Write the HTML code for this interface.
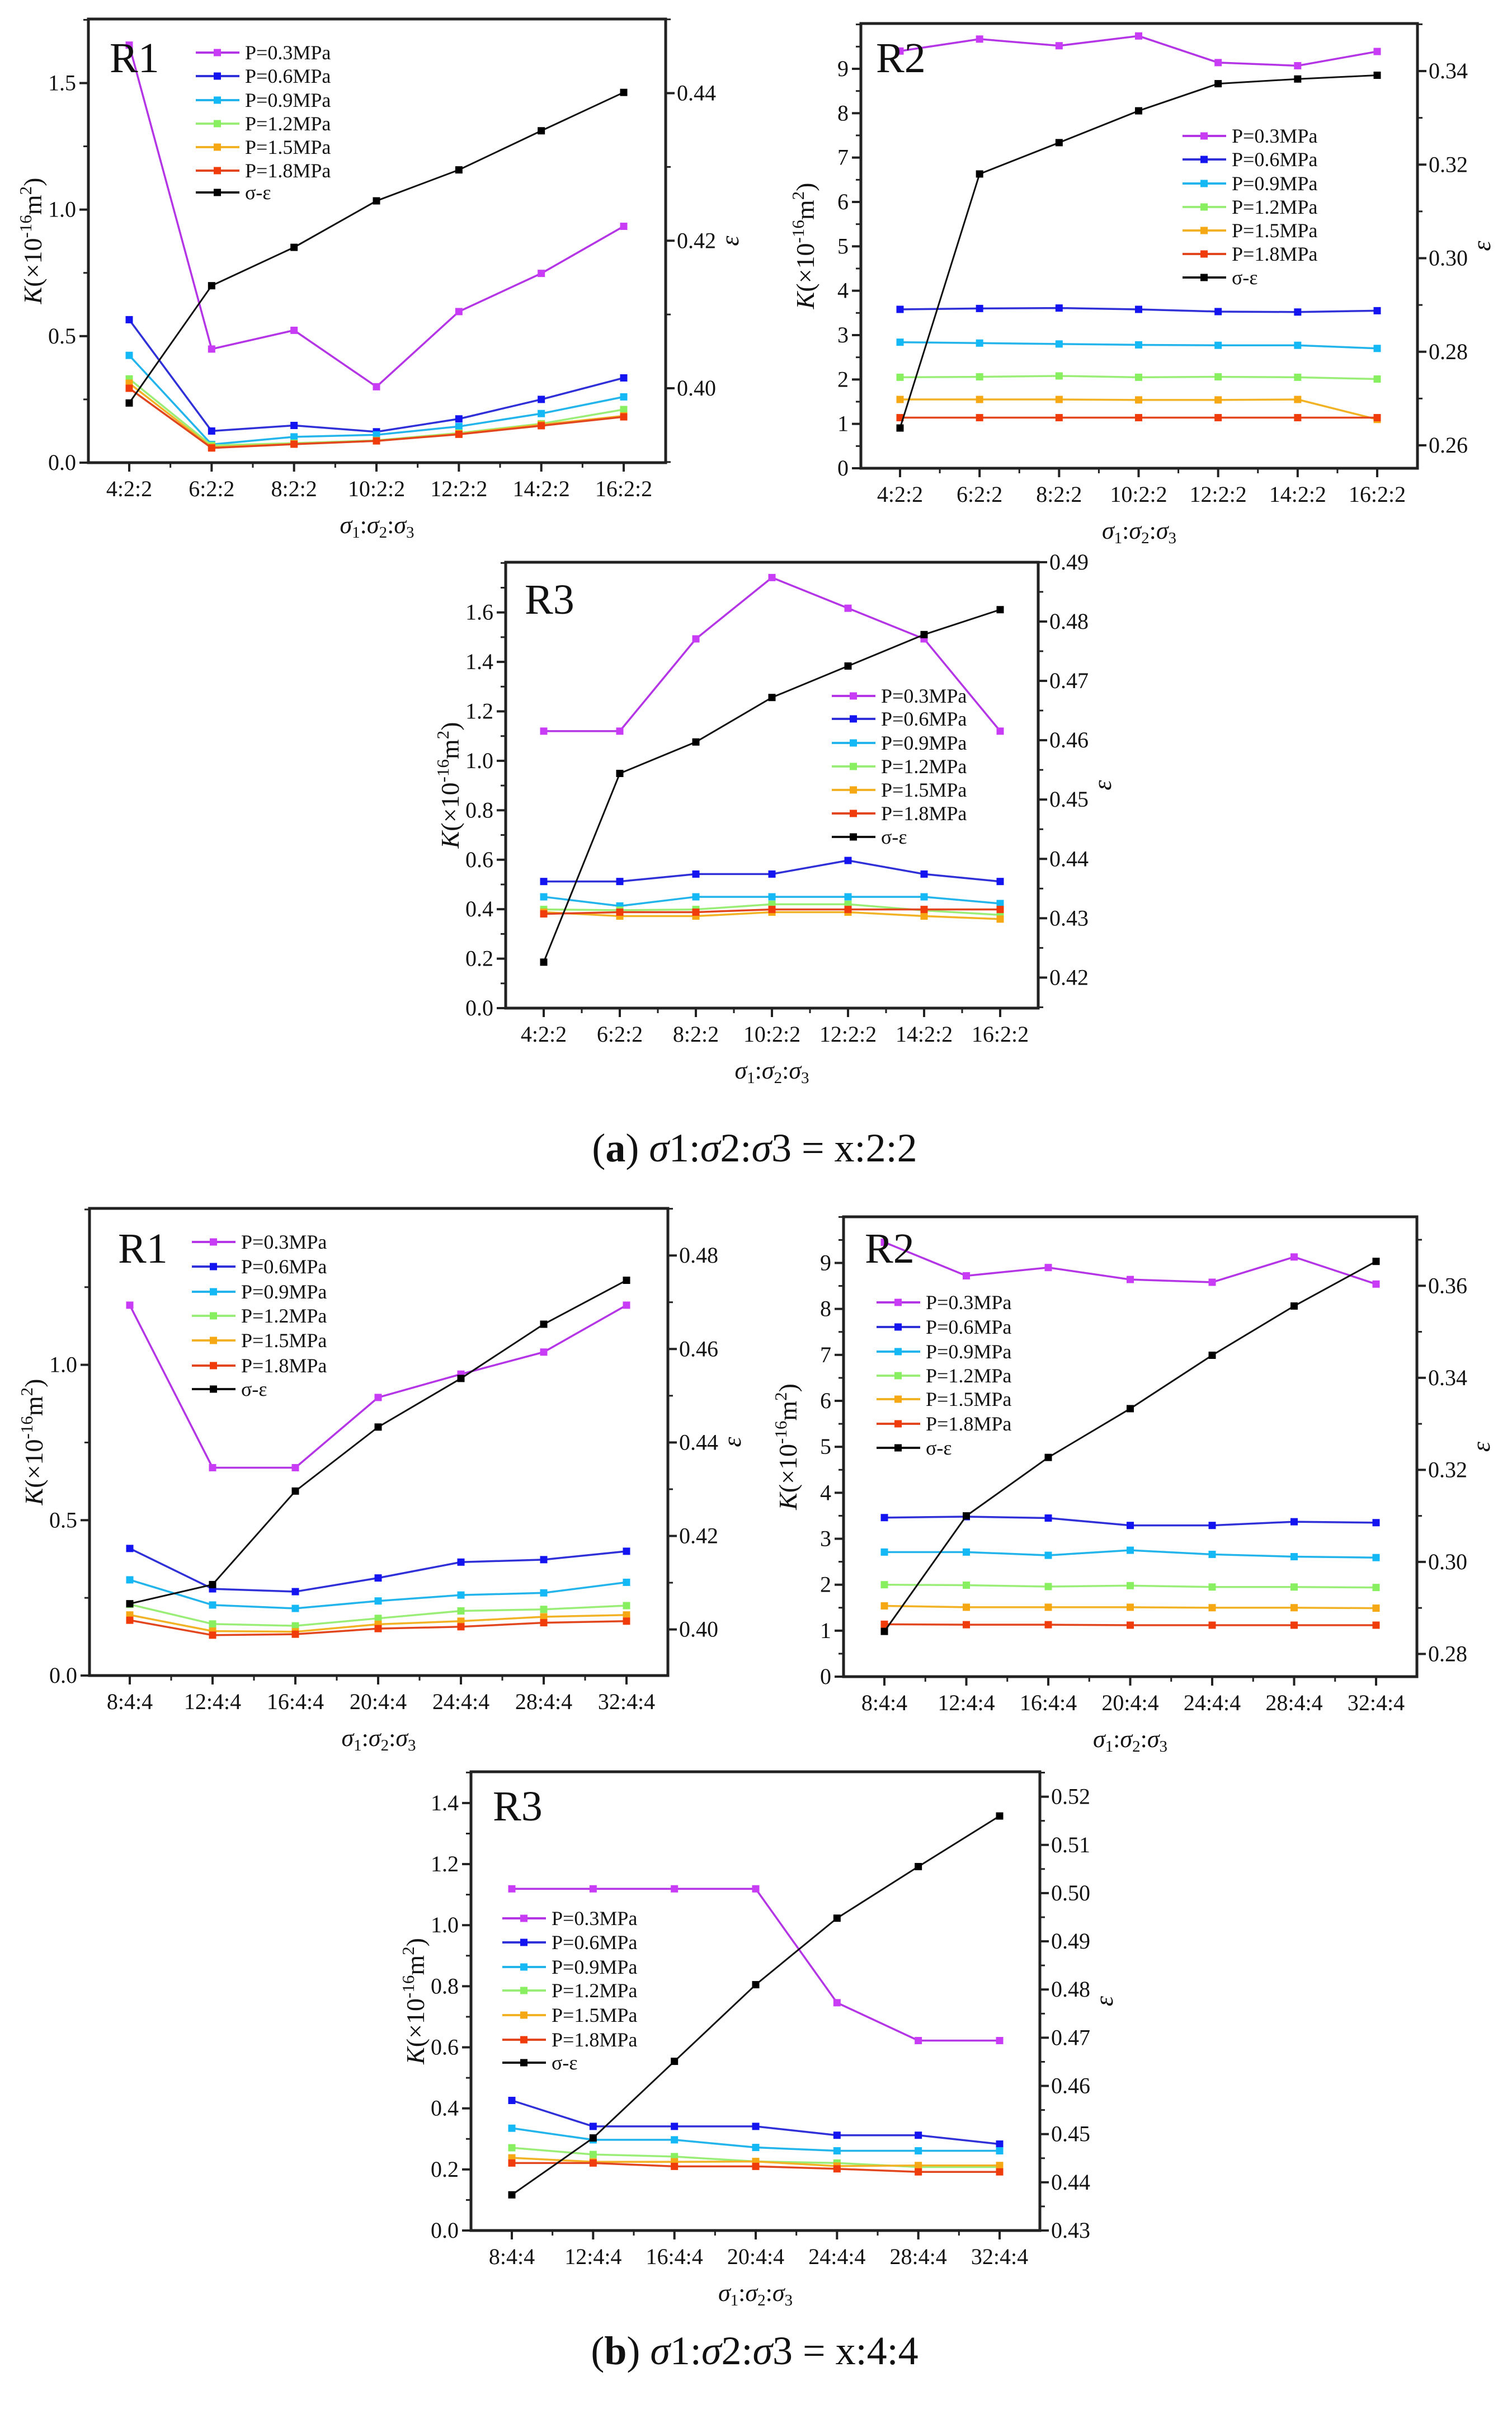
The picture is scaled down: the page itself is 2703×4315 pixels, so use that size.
<!DOCTYPE html>
<html><head><meta charset="utf-8"><style>
html,body{margin:0;padding:0;background:#fff;}
svg{display:block;}
text{font-family:"Liberation Serif","DejaVu Serif",serif;fill:#111;}
</style></head><body>
<svg id="fig" xmlns="http://www.w3.org/2000/svg" width="2703" height="4315" viewBox="0 0 2703 4315">
<rect x="0" y="0" width="2703" height="4315" fill="#fff"/>
<text x="1349" y="2076" font-size="72" text-anchor="middle">(<tspan font-weight="bold">a</tspan>) <tspan font-style="italic">σ</tspan>1:<tspan font-style="italic">σ</tspan>2:<tspan font-style="italic">σ</tspan>3 = x:2:2</text>
<text x="1349" y="4226" font-size="72" text-anchor="middle">(<tspan font-weight="bold">b</tspan>) <tspan font-style="italic">σ</tspan>1:<tspan font-style="italic">σ</tspan>2:<tspan font-style="italic">σ</tspan>3 = x:4:4</text>
</svg>
<script>
// ---- categories ----
const catsA = ['4:2:2','6:2:2','8:2:2','10:2:2','12:2:2','14:2:2','16:2:2'];
const catsB = ['8:4:4','12:4:4','16:4:4','20:4:4','24:4:4','28:4:4','32:4:4'];
const legendLabels = ['P=0.3MPa','P=0.6MPa','P=0.9MPa','P=1.2MPa','P=1.5MPa','P=1.8MPa','σ-ε'];
// ---- (a) R1 ----
const aR1_p03 = [1.65,0.449,0.523,0.30,0.597,0.748,0.934];
const aR1_p06 = [0.565,0.125,0.147,0.122,0.173,0.25,0.335];
const aR1_p09 = [0.424,0.072,0.102,0.11,0.143,0.194,0.26];
const aR1_p12 = [0.331,0.068,0.077,0.088,0.117,0.154,0.21];
const aR1_p15 = [0.314,0.061,0.074,0.086,0.114,0.15,0.185];
const aR1_p18 = [0.294,0.058,0.073,0.086,0.112,0.146,0.181];
const aR1_eps = [0.398,0.4139,0.4191,0.4254,0.4296,0.4349,0.4401];
const aR1_kTicks = ['0.0','0.5','1.0','1.5'];
const aR1_eTicks = ['0.40','0.42','0.44'];
// ---- (a) R2 ----
const aR2_p03 = [9.40,9.67,9.52,9.74,9.14,9.07,9.39];
const aR2_p06 = [3.58,3.60,3.61,3.58,3.53,3.52,3.55];
const aR2_p09 = [2.84,2.82,2.80,2.78,2.77,2.77,2.70];
const aR2_p12 = [2.05,2.06,2.08,2.05,2.06,2.05,2.01];
const aR2_p15 = [1.55,1.55,1.55,1.54,1.54,1.55,1.10];
const aR2_p18 = [1.14,1.14,1.14,1.14,1.14,1.14,1.14];
const aR2_eps = [0.2637,0.318,0.3247,0.3315,0.3373,0.3383,0.3391];
const aR2_kTicks = ['0','1','2','3','4','5','6','7','8','9'];
const aR2_eTicks = ['0.26','0.28','0.30','0.32','0.34'];
// ---- (a) R3 ----
const aR3_p03 = [1.12,1.12,1.493,1.741,1.617,1.493,1.12];
const aR3_p06 = [0.512,0.512,0.542,0.542,0.597,0.542,0.512];
const aR3_p09 = [0.45,0.413,0.45,0.45,0.45,0.45,0.423];
const aR3_p12 = [0.399,0.396,0.399,0.42,0.42,0.395,0.377];
const aR3_p15 = [0.388,0.372,0.372,0.388,0.388,0.372,0.36];
const aR3_p18 = [0.381,0.388,0.388,0.399,0.399,0.399,0.399];
const aR3_eps = [0.4226,0.4544,0.4597,0.4672,0.4725,0.4778,0.482];
const aR3_kTicks = ['0.0','0.2','0.4','0.6','0.8','1.0','1.2','1.4','1.6'];
const aR3_eTicks = ['0.42','0.43','0.44','0.45','0.46','0.47','0.48','0.49'];
// ---- (b) R1 ----
const bR1_p03 = [1.192,0.669,0.669,0.895,0.970,1.041,1.192];
const bR1_p06 = [0.409,0.279,0.270,0.314,0.365,0.373,0.40];
const bR1_p09 = [0.308,0.227,0.216,0.24,0.259,0.266,0.30];
const bR1_p12 = [0.229,0.166,0.16,0.184,0.208,0.213,0.225];
const bR1_p15 = [0.195,0.143,0.141,0.165,0.175,0.189,0.195];
const bR1_p18 = [0.178,0.13,0.133,0.151,0.157,0.17,0.175];
const bR1_eps = [0.4055,0.4096,0.4296,0.4433,0.4537,0.4653,0.4747];
const bR1_kTicks = ['0.0','0.5','1.0'];
const bR1_eTicks = ['0.40','0.42','0.44','0.46','0.48'];
// ---- (b) R2 ----
const bR2_p03 = [9.45,8.72,8.90,8.64,8.58,9.13,8.54];
const bR2_p06 = [3.46,3.48,3.45,3.29,3.29,3.37,3.35];
const bR2_p09 = [2.71,2.71,2.64,2.75,2.66,2.61,2.59];
const bR2_p12 = [2.0,1.99,1.96,1.98,1.95,1.95,1.94];
const bR2_p15 = [1.54,1.51,1.51,1.51,1.50,1.50,1.49];
const bR2_p18 = [1.14,1.13,1.13,1.12,1.12,1.12,1.12];
const bR2_eps = [0.2849,0.31,0.3227,0.3333,0.3449,0.3556,0.3653];
const bR2_kTicks = ['0','1','2','3','4','5','6','7','8','9'];
const bR2_eTicks = ['0.28','0.30','0.32','0.34','0.36'];
// ---- (b) R3 ----
const bR3_p03 = [1.119,1.119,1.119,1.119,0.746,0.622,0.622];
const bR3_p06 = [0.426,0.341,0.341,0.341,0.312,0.312,0.283];
const bR3_p09 = [0.335,0.297,0.297,0.272,0.261,0.261,0.261];
const bR3_p12 = [0.271,0.249,0.242,0.226,0.221,0.208,0.208];
const bR3_p15 = [0.238,0.225,0.225,0.226,0.211,0.213,0.213];
const bR3_p18 = [0.221,0.221,0.21,0.21,0.202,0.192,0.192];
const bR3_eps = [0.4374,0.4492,0.4651,0.481,0.4948,0.5055,0.516];
const bR3_kTicks = ['0.0','0.2','0.4','0.6','0.8','1.0','1.2','1.4'];
const bR3_eTicks = ['0.43','0.44','0.45','0.46','0.47','0.48','0.49','0.50','0.51','0.52'];

const COLORS = ['#b435e6','#3030d8','#22b4ea','#9aee78','#f2b225','#e2461e','#111111'];
const MARK = ['#c83cf5','#1414f0','#14b8f5','#88f060','#f5a814','#f03c0a','#000000'];
const NS = 'http://www.w3.org/2000/svg';
const svg = document.getElementById('fig');
function mk(tag, attrs, parent){
  const el = document.createElementNS(NS, tag);
  for (const k in attrs) el.setAttribute(k, attrs[k]);
  parent.appendChild(el);
  return el;
}

function drawPanel(p){
  const g = mk('g', {}, svg);
  
  
  const n = p.cats.length;
  const xs = i => p.x0 + i * (p.x1 - p.x0) / (n - 1);
  const yK = v => p.kp0 + (v - p.kv0) * (p.kp1 - p.kp0) / (p.kv1 - p.kv0);
  const yE = v => p.ep0 + (v - p.ev0) * (p.ep1 - p.ep0) / (p.ev1 - p.ev0);
  const inv = (y, p0, v0, p1, v1) => v0 + (y - p0) * (v1 - v0) / (p1 - p0);

  for (let i = 0; i < n; i++) {
    const t = mk('line', {x1: xs(i), x2: xs(i), y1: p.B, y2: p.B + 16, stroke: '#222', 'stroke-width': 4}, g);
    
    
    const lb = mk('text', {x: xs(i), y: p.B + 60, 'font-size': 40, 'text-anchor': 'middle'}, g);
    lb.textContent = p.cats[i];
    
    
    if (i < n - 1) {
      const mx = (xs(i) + xs(i + 1)) / 2;
      const m = mk('line', {x1: mx, x2: mx, y1: p.B, y2: p.B + 9, stroke: '#222', 'stroke-width': 3}, g);
      
      
    }
  }
  const kLo = inv(p.B, p.kp0, p.kv0, p.kp1, p.kv1), kHi = inv(p.T, p.kp0, p.kv0, p.kp1, p.kv1);
  for (let k = Math.ceil(kLo / p.kMinor - 1e-6); k * p.kMinor <= kHi + 1e-9; k++) {
    const v = k * p.kMinor, y = yK(v);
    const isMajor = p.kTicks.some(s => Math.abs(parseFloat(s) - v) < 1e-6);
    if (isMajor) continue;
    const m = mk('line', {x1: p.L - 9, x2: p.L, y1: y, y2: y, stroke: '#222', 'stroke-width': 3}, g);
    
    
  }
  p.kTicks.forEach(s => {
    const y = yK(parseFloat(s));
    const t = mk('line', {x1: p.L - 16, x2: p.L, y1: y, y2: y, stroke: '#222', 'stroke-width': 4}, g);
    
    
    const lb = mk('text', {x: p.L - 22, y: y + 13, 'font-size': 40, 'text-anchor': 'end'}, g);
    lb.textContent = s;
    
    
  });
  const eLo = inv(p.B, p.ep0, p.ev0, p.ep1, p.ev1), eHi = inv(p.T, p.ep0, p.ev0, p.ep1, p.ev1);
  for (let k = Math.ceil(eLo / p.eMinor - 1e-6); k * p.eMinor <= eHi + 1e-9; k++) {
    const v = k * p.eMinor, y = yE(v);
    const isMajor = p.eTicks.some(s => Math.abs(parseFloat(s) - v) < 1e-6);
    if (isMajor) continue;
    const m = mk('line', {x1: p.R, x2: p.R + 9, y1: y, y2: y, stroke: '#222', 'stroke-width': 3}, g);
    
    
  }
  p.eTicks.forEach(s => {
    const y = yE(parseFloat(s));
    const t = mk('line', {x1: p.R, x2: p.R + 16, y1: y, y2: y, stroke: '#222', 'stroke-width': 4}, g);
    
    
    const lb = mk('text', {x: p.R + 20, y: y + 13, 'font-size': 40, 'text-anchor': 'start'}, g);
    lb.textContent = s;
    
    
  });
  p.series.forEach((vals, si) => {
    const fy = si === 6 ? yE : yK;
    const pts = vals.map((v, i) => xs(i) + ',' + fy(v)).join(' ');
    const pl = mk('polyline', {points: pts, fill: 'none', stroke: COLORS[si], 'stroke-width': si === 6 ? 3 : 3.5}, g);
    
    
    vals.forEach((v, i) => {
      const r = mk('rect', {x: xs(i) - 6.5, y: fy(v) - 6.5, width: 13, height: 13, fill: MARK[si]}, g);
      
      
    });
  });
  const fr = mk('rect', {x: p.L, y: p.T, width: p.R - p.L, height: p.B - p.T, fill: 'none', stroke: '#222', 'stroke-width': 5}, g);
  
  
  p.legY.forEach((ly, i) => {
    const ln = mk('line', {x1: p.legX, x2: p.legX + 78, y1: ly, y2: ly, stroke: COLORS[i], 'stroke-width': 4}, g);
    
    
    const mr = mk('rect', {x: p.legX + 32, y: ly - 6.5, width: 13, height: 13, fill: MARK[i]}, g);
    
    
    const tx = mk('text', {x: p.legX + 88, y: ly + 12, 'font-size': 36}, g);
    tx.textContent = legendLabels[i];
    
    
  });
  const rl = mk('text', {x: p.rx, y: p.ry, 'font-size': 76}, g);
  rl.textContent = p.label;
  
  
  const cy = (p.T + p.B) / 2;
  const yt = mk('text', {x: 0, y: 0, 'font-size': 46, 'text-anchor': 'middle', transform: 'translate(' + (p.L - 84) + ',' + cy + ') rotate(-90)'}, g);
  yt.innerHTML = '<tspan font-style="italic">K</tspan>(×10<tspan font-size="31" dy="-18">-16</tspan><tspan dy="18">m</tspan><tspan font-size="31" dy="-18">2</tspan><tspan dy="18">)</tspan>';
  
  
  const et = mk('text', {x: 0, y: 0, 'font-size': 46, 'font-style': 'italic', 'text-anchor': 'middle', transform: 'translate(' + (p.R + 130) + ',' + cy + ') rotate(-90)'}, g);
  et.textContent = 'ε';
  
  
  const xt = mk('text', {x: (p.L + p.R) / 2, y: p.B + 126, 'font-size': 44, 'text-anchor': 'middle', 'font-style': 'italic'}, g);
  xt.innerHTML = 'σ<tspan font-style="normal" font-size="29" dy="8">1</tspan><tspan font-style="normal" dy="-8">:</tspan>σ<tspan font-style="normal" font-size="29" dy="8">2</tspan><tspan font-style="normal" dy="-8">:</tspan>σ<tspan font-style="normal" font-size="29" dy="8">3</tspan>';
  
  
}

drawPanel({name:'panel-a-r1', label:'R1', cats:catsA, L:158, R:1190, T:34, B:827, x0:231, x1:1115,
  kv0:0, kp0:827, kv1:1.5, kp1:148.5, kTicks:aR1_kTicks, kMinor:0.25,
  ev0:0.40, ep0:694, ev1:0.44, ep1:166.5, eTicks:aR1_eTicks, eMinor:0.01,
  series:[aR1_p03,aR1_p06,aR1_p09,aR1_p12,aR1_p15,aR1_p18,aR1_eps],
  legX:350, legY:[94,136,179,221,263,305,344], rx:196, ry:129});
drawPanel({name:'panel-a-r2', label:'R2', cats:catsA, L:1539, R:2534, T:42, B:837, x0:1609, x1:2462,
  kv0:0, kp0:837, kv1:9, kp1:123, kTicks:aR2_kTicks, kMinor:0.5,
  ev0:0.26, ep0:796, ev1:0.34, ep1:127, eTicks:aR2_eTicks, eMinor:0.01,
  series:[aR2_p03,aR2_p06,aR2_p09,aR2_p12,aR2_p15,aR2_p18,aR2_eps],
  legX:2114, legY:[243,285,328,370,412,454,496], rx:1566, ry:129});
drawPanel({name:'panel-a-r3', label:'R3', cats:catsA, L:904, R:1856, T:1005, B:1802, x0:972, x1:1788,
  kv0:0, kp0:1802, kv1:1.6, kp1:1094.7, kTicks:aR3_kTicks, kMinor:0.1,
  ev0:0.42, ep0:1747.4, ev1:0.49, ep1:1004.9, eTicks:aR3_eTicks, eMinor:0.005,
  series:[aR3_p03,aR3_p06,aR3_p09,aR3_p12,aR3_p15,aR3_p18,aR3_eps],
  legX:1487, legY:[1244,1285,1328,1370,1412,1454,1496], rx:938, ry:1097});
drawPanel({name:'panel-b-r1', label:'R1', cats:catsB, L:160, R:1194, T:2160, B:2995, x0:232, x1:1120,
  kv0:0, kp0:2995, kv1:1.0, kp1:2439.6, kTicks:bR1_kTicks, kMinor:0.25,
  ev0:0.40, ep0:2912.6, ev1:0.48, ep1:2244.2, eTicks:bR1_eTicks, eMinor:0.01,
  series:[bR1_p03,bR1_p06,bR1_p09,bR1_p12,bR1_p15,bR1_p18,bR1_eps],
  legX:343, legY:[2220,2264,2309,2352,2396,2441,2483], rx:211, ry:2257});
drawPanel({name:'panel-b-r2', label:'R2', cats:catsB, L:1508, R:2533, T:2175, B:2997, x0:1581, x1:2460,
  kv0:0, kp0:2997, kv1:9, kp1:2257.5, kTicks:bR2_kTicks, kMinor:0.5,
  ev0:0.28, ep0:2956.4, ev1:0.36, ep1:2298.3, eTicks:bR2_eTicks, eMinor:0.01,
  series:[bR2_p03,bR2_p06,bR2_p09,bR2_p12,bR2_p15,bR2_p18,bR2_eps],
  legX:1567, legY:[2328,2372,2416,2459,2501,2545,2588], rx:1546, ry:2257});
drawPanel({name:'panel-b-r3', label:'R3', cats:catsB, L:842, R:1859, T:3167, B:3987, x0:915, x1:1787,
  kv0:0, kp0:3987, kv1:1.4, kp1:3222.9, kTicks:bR3_kTicks, kMinor:0.1,
  ev0:0.43, ep0:3987, ev1:0.52, ep1:3211.6, eTicks:bR3_eTicks, eMinor:0.005,
  series:[bR3_p03,bR3_p06,bR3_p09,bR3_p12,bR3_p15,bR3_p18,bR3_eps],
  legX:898, legY:[3429,3472,3516,3558,3602,3646,3687], rx:881, ry:3254});
</script>
</body></html>
